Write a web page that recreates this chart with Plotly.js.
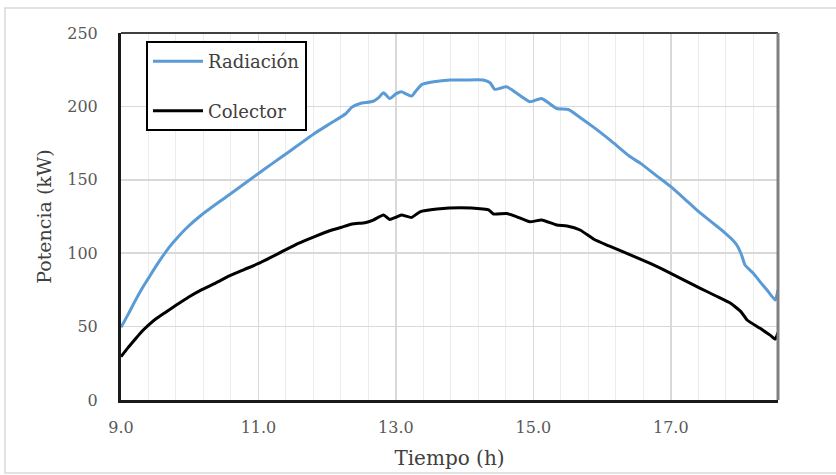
<!DOCTYPE html>
<html>
<head>
<meta charset="utf-8">
<script src="https://cdn.plot.ly/plotly-3.0.1.min.js"></script>
<style>html,body{margin:0;padding:0;background:#fff;}#chart{width:836px;height:475px;}</style>
</head>
<body>
<div id="chart"></div>
<script>
const radTime = [9.00,9.10,9.20,9.30,9.40,9.50,9.60,9.70,9.80,9.95,10.17,10.40,10.61,10.80,11.00,11.20,11.44,11.65,11.83,12.05,12.27,12.36,12.48,12.67,12.75,12.82,12.91,13.00,13.08,13.15,13.23,13.30,13.38,13.55,13.79,14.00,14.27,14.37,14.44,14.61,14.76,14.95,15.12,15.34,15.51,15.68,15.90,16.17,16.40,16.56,16.80,17.00,17.20,17.38,17.60,17.77,17.90,17.96,18.03,18.08,18.20,18.30,18.40,18.52,18.56];
const radiacion = [49.5,58,67,75.5,83,90.5,97.5,104,109.5,117,126,134,141,147.5,154.3,161,169,176,182,188.5,195,199.5,202,203.5,206,209.3,205.4,208.5,210,208.5,207,211,215,216.8,218,218,218,216.1,211.6,213.4,208.9,203.2,205.4,198.6,197.9,192.5,185,175,166,161.2,152.5,145.3,137,129.4,121,114.6,109,105.6,98.8,92,86.3,80.5,74.9,68.1,75];

const colTime = [9.00,9.10,9.20,9.30,9.40,9.50,9.64,9.80,9.98,10.17,10.37,10.60,10.80,11.00,11.30,11.58,11.80,12.07,12.20,12.36,12.55,12.67,12.82,12.91,13.00,13.08,13.23,13.35,13.60,13.94,14.27,14.35,14.42,14.61,14.76,14.95,15.12,15.34,15.49,15.68,15.88,16.10,16.36,16.70,17.00,17.20,17.43,17.65,17.87,17.95,18.02,18.11,18.30,18.45,18.52,18.56];
const colector = [29.5,35.5,41,46.5,51,55,59.5,64.5,70,75,79.5,85,89,93,100,106.7,111,115.8,117.5,119.9,120.8,122.6,126,123,124.5,126,124.4,128.2,130.1,131,130.1,129.5,126.7,127.1,124.8,121.4,122.6,119.2,118.5,115.8,109.5,105,99.9,93,86.3,81.5,76.1,71,65.9,63,60.2,54.5,48.8,44,41.5,46];

const seriesNames = ["Radiación", "Colector"];
const xTitle = "Tiempo (h)";
const yTitle = "Potencia (kW)";

const serif = "'DejaVu Serif', serif";

const traces = [
  {x: radTime, y: radiacion, name: seriesNames[0], type: "scatter", mode: "lines",
   line: {color: "#5b9bd5", width: 3, shape: "spline", smoothing: 0.5}, legendgroup: "a"},
  {x: colTime, y: colector, name: seriesNames[1], type: "scatter", mode: "lines",
   line: {color: "#000000", width: 3, shape: "spline", smoothing: 0.5}, legendgroup: "b"}
];

const layout = {
  width: 836, height: 475,
  margin: {l: 121, r: 58, t: 33, b: 75},
  paper_bgcolor: "#ffffff", plot_bgcolor: "#ffffff",
  font: {family: serif},
  showlegend: true,
  legend: {
    x: 0.038, y: 0.978, xanchor: "left", yanchor: "top",
    bordercolor: "#000000", borderwidth: 2, bgcolor: "#ffffff",
    font: {family: serif, size: 18, color: "#404040"},
    tracegroupgap: 23, traceorder: "grouped", itemwidth: 50
  },
  xaxis: {
    range: [9, 18.56], tick0: 9, dtick: 2, tickformat: ".1f",
    showgrid: true, gridcolor: "#d9d9d9", gridwidth: 1.5,
    minor: {tick0: 9, dtick: 0.4, showgrid: true, gridcolor: "#ececec", gridwidth: 1},
    showline: true, linecolor: "#1a1a1a", linewidth: 3,
    ticks: "", ticklabelstandoff: 11, zeroline: false,
    tickfont: {family: serif, size: 16, color: "#595959"},
    title: {text: xTitle, font: {family: serif, size: 20, color: "#404040"}, standoff: 15}
  },
  yaxis: {
    range: [0, 250], dtick: 50,
    showgrid: true, gridcolor: "#d9d9d9", gridwidth: 1.5,
    showline: true, linecolor: "#1a1a1a", linewidth: 3,
    ticks: "", ticklabelstandoff: 17, zeroline: false,
    tickfont: {family: serif, size: 16, color: "#595959"},
    title: {text: yTitle, font: {family: serif, size: 19, color: "#404040"}, standoff: 11}
  },
  shapes: [
    {type: "line", xref: "paper", yref: "paper", x0: 0, x1: 1, y0: 1, y1: 1,
     line: {color: "#404040", width: 2}},
    {type: "line", xref: "paper", yref: "paper", x0: 1, x1: 1, y0: 0, y1: 1,
     line: {color: "#808080", width: 3}},
    {type: "rect", xref: "paper", yref: "paper",
     x0: (5 - 121) / 657, x1: (845 - 121) / 657, y0: (400 - 473) / 367, y1: (400 - 8) / 367,
     line: {color: "#d9d9d9", width: 1.5}, layer: "below"}
  ]
};

Plotly.newPlot("chart", traces, layout, {displayModeBar: false, staticPlot: true});
</script>
</body>
</html>
